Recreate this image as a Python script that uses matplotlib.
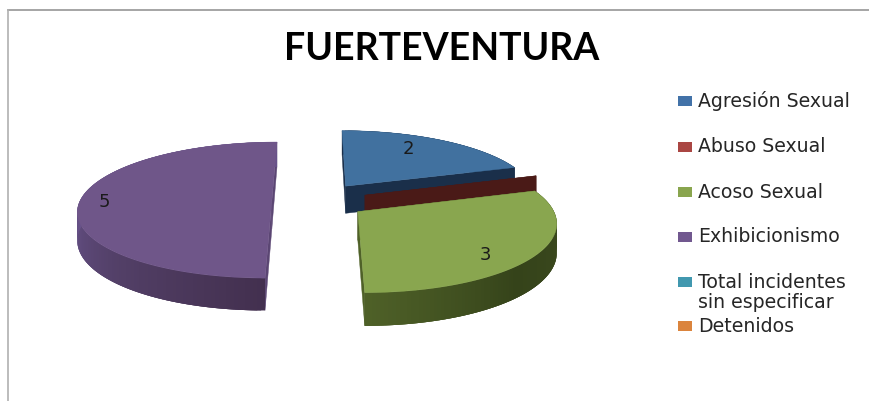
import numpy as np
import matplotlib
matplotlib.use("Agg")
import matplotlib.pyplot as plt
from matplotlib.colors import to_rgb

title = "FUERTEVENTURA"
categories = ["Agresión Sexual", "Abuso Sexual", "Acoso Sexual", "Exhibicionismo",
              "Total incidentes\nsin especificar", "Detenidos"]
values = [2, 0, 3, 5, 0, 0]
explode = [0.28, 0.277, 0.27, 0.225, 0, 0]
legend_colors = ["#4272a8", "#aa4643", "#89a54e", "#71588f", "#4198af", "#db843d"]
top_colors = ["#41719f", "#4a1a17", "#89a64f", "#6f5689"]
edge_colors = ["#1a2f4a", "#4a1a17", "#4f6128", "#5b4673"]
# rim shading: angle (deg clockwise from north) -> colour
rim_ramps = [
    [(0, "#1a2f4a"), (72, "#1a2f4a")],
    [(72, "#4a1a17"), (72.1, "#4a1a17")],
    [(72, "#3e4c20"), (135, "#35431a"), (180, "#4f6128")],
    [(180, "#43304f"), (225, "#534068"), (270, "#67528a"), (360, "#67528a")],
]
legend_y = [101, 147, 192, 237, 282, 326]
label_xy = {0: (408, 149), 2: (485, 255), 3: (104, 202)}

W, H = 869, 401
DEPTH = 28
VP_X, VP_Y = 315, -290
A, B, C = 191.8, 490.8, 0.136


def project(x, y):
    """pie plane -> pixel, with the perspective of the 3D chart"""
    w = 1 + C * y
    return VP_X + A * x / w, VP_Y + B / w, DEPTH / w


def ramp_color(ramp, ang):
    angs = [r[0] for r in ramp]
    rgb = np.array([to_rgb(r[1]) for r in ramp])
    return [np.interp(ang, angs, rgb[:, i]) for i in range(3)]


def draw_slice(ax, start, sweep, off, top, edge, ramp):
    mid = np.radians(start + sweep / 2)
    ox, oy = off * np.sin(mid), off * np.cos(mid)
    ang = np.linspace(start, start + sweep, max(2, int(sweep) + 1))
    rx = ox + np.sin(np.radians(ang))
    ry = oy + np.cos(np.radians(ang))
    sx, sy, d = project(rx, ry)
    ax0, ay0, ad = project(ox, oy)

    # paredes radiales
    for i in (0, -1):
        ax.fill([ax0, sx[i], sx[i], ax0], [ay0, sy[i], sy[i] + d[i], ay0 + ad],
                color=edge, lw=0.3)
    # borde exterior, cada trozo tapa la junta con el siguiente
    n = len(ang)
    for i in range(n - 1):
        j = min(i + 3, n - 1)
        c = ramp_color(ramp, ang[i])
        ax.fill(np.r_[sx[i:j + 1], sx[i:j + 1][::-1]],
                np.r_[sy[i:j + 1], (sy + d)[i:j + 1][::-1]],
                color=c, lw=0)
    # cara superior
    if sweep > 0:
        ax.fill(np.r_[ax0, sx], np.r_[ay0, sy], color=top, lw=0.3)


plt.rcParams["font.family"] = ["DejaVu Sans"]
fig = plt.figure(figsize=(W / 100, H / 100), dpi=100)
ax = fig.add_axes([0, 0, 1, 1])
ax.set_xlim(0, W)
ax.set_ylim(H, 0)
ax.axis("off")

# marco
ax.plot([8, W], [9.5, 9.5], color="#969696", lw=1.2)
ax.plot([8, 8], [9.5, H], color="#b0b0b0", lw=1.2)

ax.text(441.5, 49, title, fontsize=27, fontweight="bold", family=["Lato", "DejaVu Sans"],
        color="black", ha="center", va="center")

sweeps = [v / sum(values) * 360 for v in values]
starts = np.r_[0, np.cumsum(sweeps)[:-1]]
for i in [0, 1, 3, 2]:
    draw_slice(ax, starts[i], sweeps[i], explode[i], top_colors[i], edge_colors[i], rim_ramps[i])

for i, (x, y) in label_xy.items():
    ax.text(x, y, str(values[i]), fontsize=13, color="#1a1a1a", ha="center", va="center")

for name, col, y in zip(categories, legend_colors, legend_y):
    ax.fill([678, 692, 692, 678], [y - 5, y - 5, y + 5, y + 5], color=col, lw=0)
    for j, part in enumerate(name.split("\n")):
        ax.text(698, y + j * 21, part, fontsize=13.6, color="#262626", ha="left", va="center")

fig.savefig("out.png", dpi=100, facecolor="white")
